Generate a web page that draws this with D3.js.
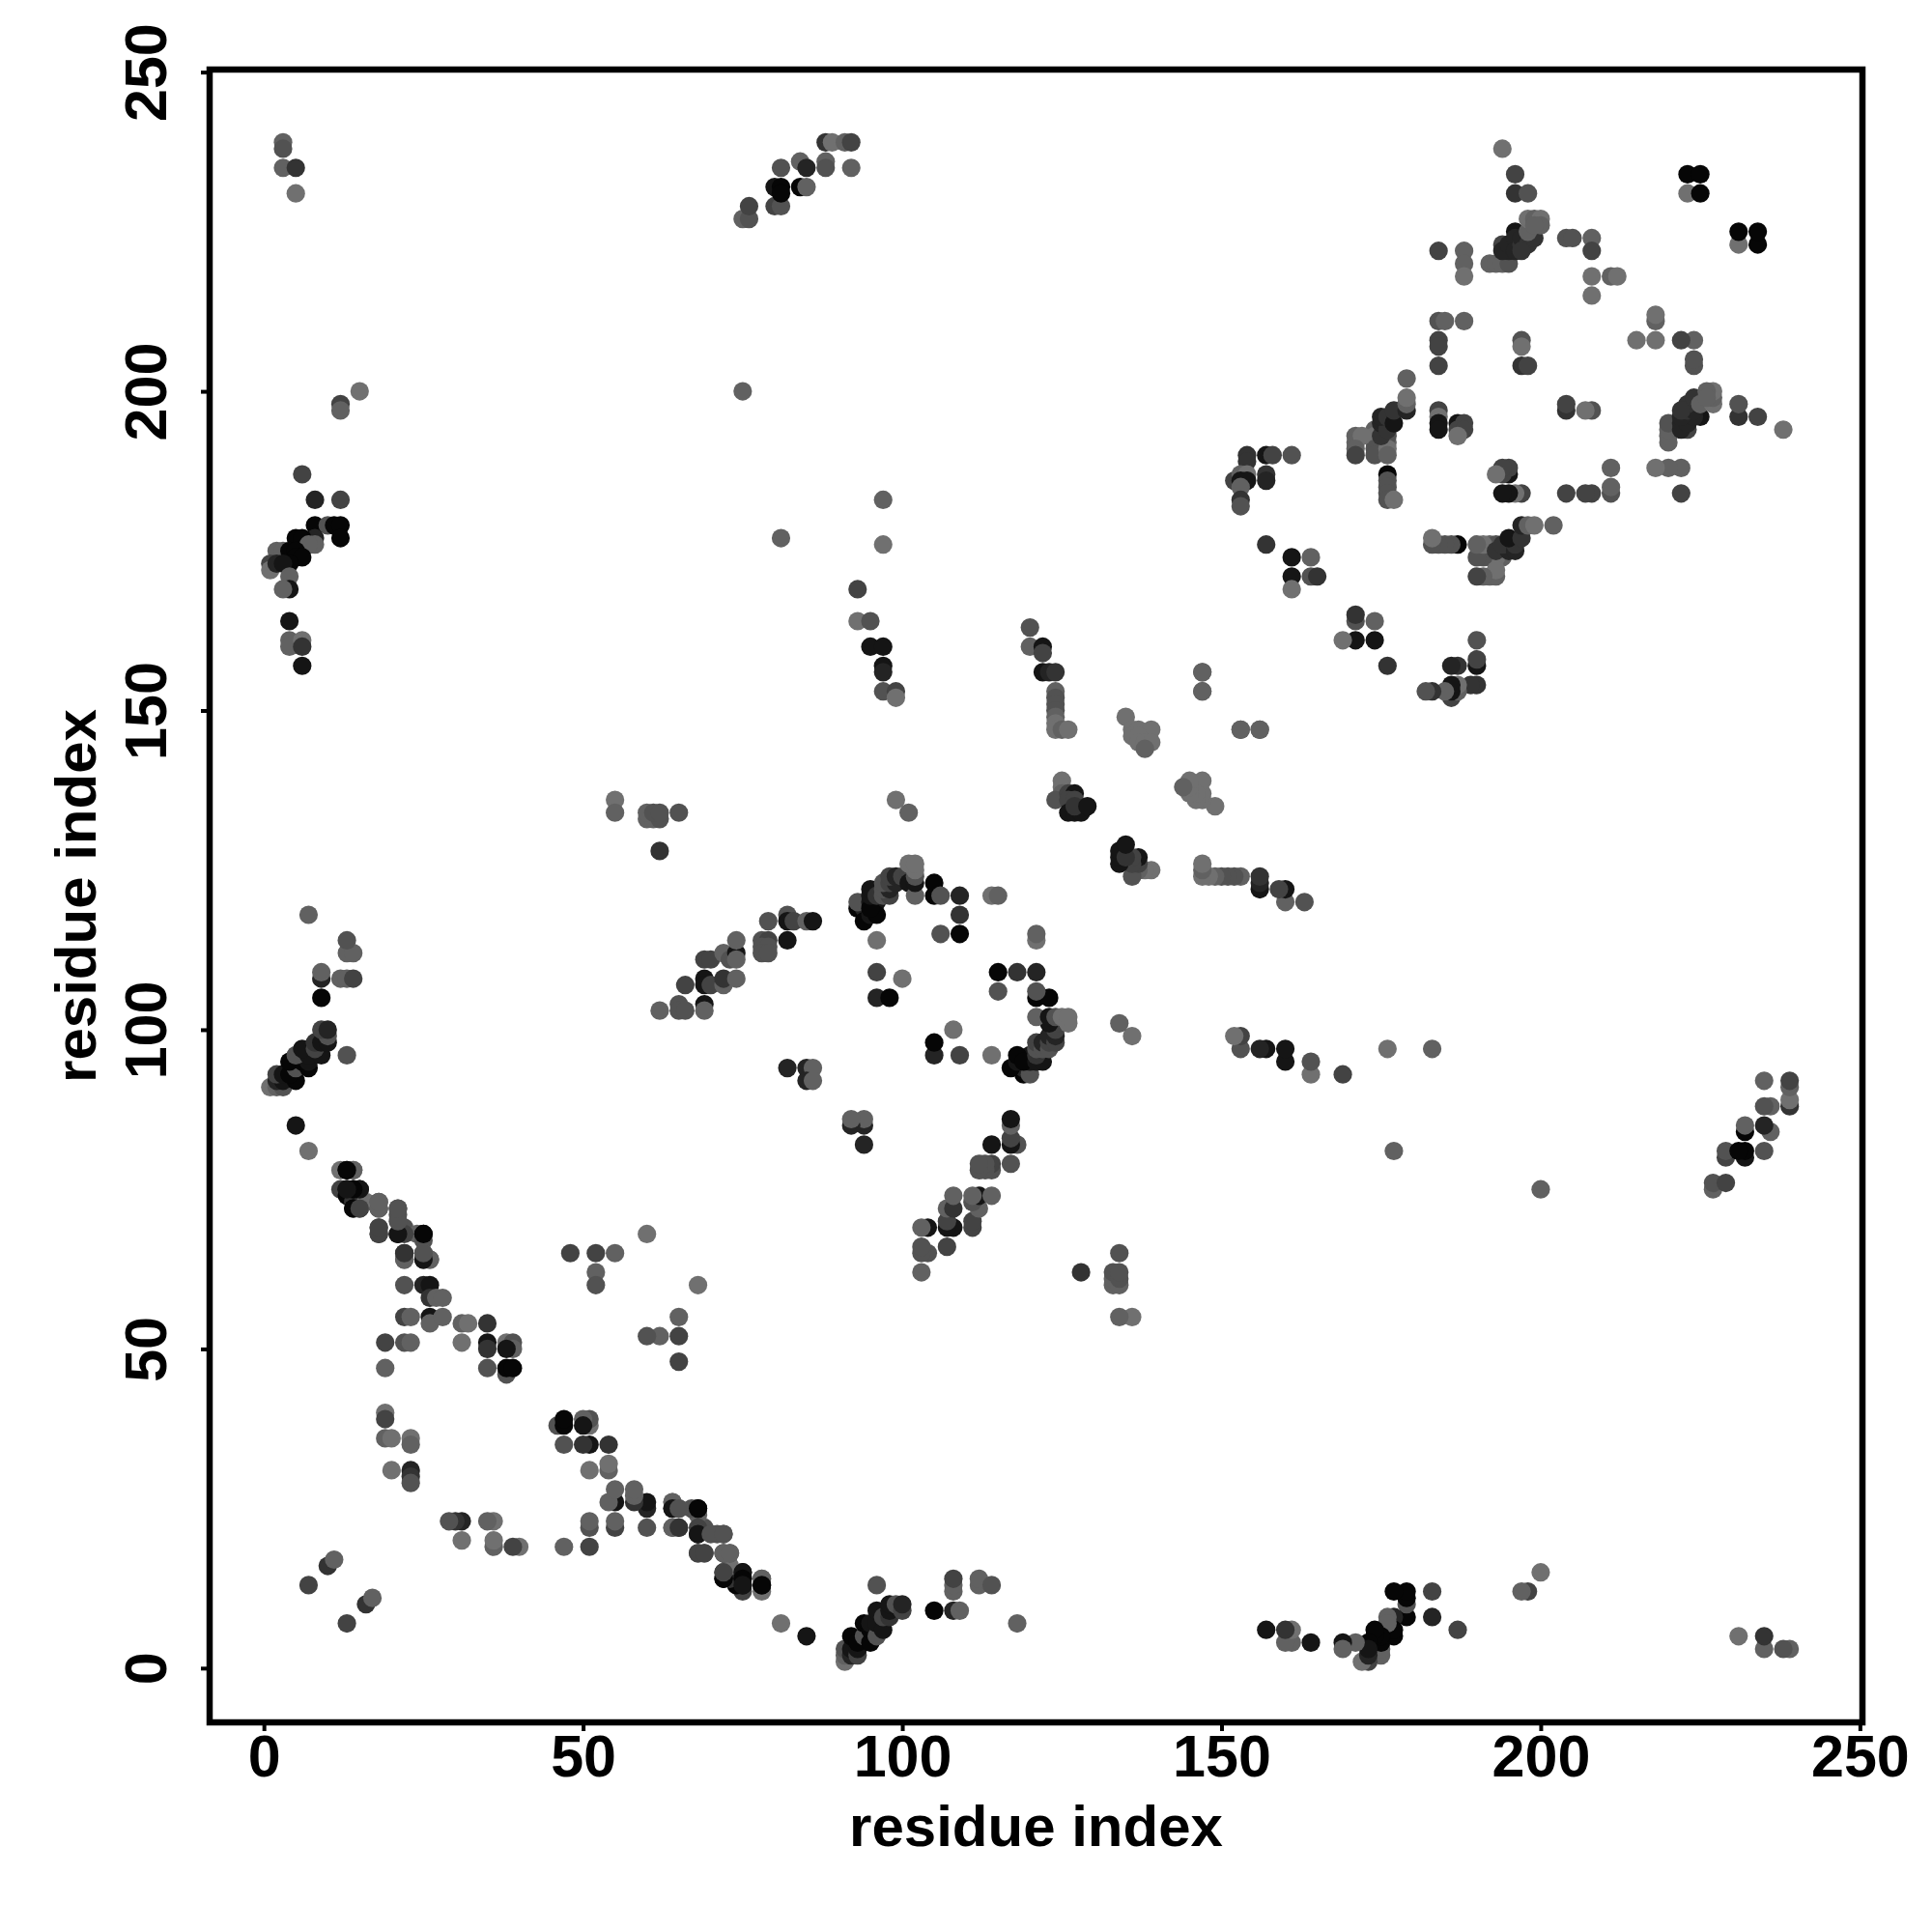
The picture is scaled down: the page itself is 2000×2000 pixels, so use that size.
<!DOCTYPE html>
<html>
<head>
<meta charset="utf-8">
<title>contact map</title>
<script src="https://cdnjs.cloudflare.com/ajax/libs/d3/7.8.5/d3.min.js"></script>
<style>
  body { margin: 0; background: #fff; }
  text { font-family: "Liberation Sans", Arial, sans-serif; font-weight: bold; fill: #000; }
</style>
</head>
<body>
<div id="chart"></div>
<script>
// contacts as [residue i, residue j, darkness level 2-9], i < j, map is symmetric
var nTermBeta = [[1,91,2],[2,91,3],[3,91,4],[2,92,7],[3,92,8],[5,92,9],[2,93,5],[3,93,8],[4,93,9],[5,94,4],[7,94,9],
  [4,95,9],[6,95,9],[7,95,8],[5,96,4],[7,96,8],[9,96,8],[6,97,8],[8,97,5],[8,98,6],[9,98,8],[10,98,8],[10,99,4],[9,100,5],[10,100,7],
  [13,96,4],[5,85,8],[7,81,2],[9,105,9],[9,108,7],[9,109,3],[12,108,3],[13,108,3],[14,108,5],[13,112,3],[14,112,3],[13,114,4],[7,118,3]];
var helixOne = [[12,78,2],[13,78,9],[14,78,2],[12,75,5],[13,75,9],[14,75,9],[15,75,9],[13,74,9],[14,73,6],[14,72,9],[15,72,8],
  [16,73,2],[18,72,6],[18,73,4],[18,69,4],[18,68,5],[21,72,4],[21,71,4],[21,68,9],[22,69,4],[24,68,3],[25,68,9],[25,67,4],
  [22,65,5],[22,64,4],[25,64,8],[25,65,3],[26,64,3],[22,60,4],[25,60,7],[26,60,8],[26,58,6],[27,58,3],[28,58,3],
  [22,55,5],[23,55,3],[26,55,8],[26,54,3],[28,55,3],[31,54,3],[32,54,2],[35,54,6],[19,51,5],[22,51,4],[23,51,3],[31,51,2],
  [35,51,8],[35,50,6],[38,51,2],[39,51,4],[39,50,3],[38,50,8],[19,47,3],[35,47,4],[38,46,4],[38,47,9],[39,47,9]];
var shortRange = [[19,40,2],[19,39,5],[19,36,3],[20,36,2],[23,36,2],[23,35,3],[20,31,2],[23,31,7],[23,30,6],[23,29,4],
  [7,13,5],[10,16,6],[11,17,3],[48,65,5],[52,65,5],[55,65,3],[60,68,2],[52,62,3],[52,60,4]];
var lateHelix = [[26,64,3],[25,64,8],[25,65,4],[25,68,9],[22,64,3],[22,65,6],[22,68,5],[21,68,8],[21,70,4],[21,72,4],
  [18,68,5],[18,69,5],[18,72,3],[18,73,3],[14,72,9],[15,72,5],[15,75,8],[14,75,9],[13,75,8],[14,78,3],[13,78,9]];
var strandTwo = [[62,103,3],[65,104,4],[65,103,4],[66,103,4],[69,104,8],[69,103,3],[66,107,5],[69,108,8],[69,107,8],[70,107,5],
  [69,111,5],[70,111,5],[72,107,3],[72,108,6],[74,108,3],[72,112,3],[73,111,4],[74,112,8],[74,111,3],[74,114,3],[78,114,4],[79,114,5],
  [78,113,4],[79,113,4],[78,112,4],[79,112,4],[82,114,8],[79,117,4],[82,118,4],[82,117,8],[83,117,5],[85,117,3],[86,117,8],
  [82,94,7],[85,94,7],[86,94,3],[85,92,7],[86,92,3]];
var loopContacts = [[93,119,9],[94,119,7],[94,117,9],[93,120,4],[95,120,8],[96,120,8],[95,118,8],[96,118,9],[95,119,9],[95,121,8],[95,122,8],
  [96,121,6],[97,121,4],[98,121,5],[97,122,4],[98,122,7],[97,123,4],[98,123,5],[99,123,7],[98,124,5],[99,124,7],[100,124,5],[101,124,5],[101,123,8],
  [102,121,3],[102,123,8],[102,124,4],[102,125,2],[101,126,2],[102,126,2],[105,121,9],[105,123,9],[106,121,4],[109,121,7],[109,118,6],[109,115,9],[106,115,4],
  [114,121,2],[115,121,3],[96,114,2],[96,109,5],[100,108,2],[96,105,7],[98,105,9]];
var longRangeA = [[3,239,3],[3,238,4],[3,235,3],[5,235,6],[5,231,2],[75,227,3],[76,227,4],[76,229,5],[80,229,5],[81,229,4],
  [80,232,8],[81,232,9],[81,231,9],[81,235,4],[84,232,9],[85,232,3],[84,236,3],[85,235,7],[88,239,6],[89,239,2],[91,239,3],[92,239,5],[88,236,3],[88,235,4],[92,235,3],
  [12,198,5],[12,197,3],[15,200,2],[75,200,3],[55,136,2],[55,134,3],[60,133,3],[61,133,3],[62,133,4],[60,134,3],[61,134,4],[62,134,4],[65,134,4],[62,128,6],[99,136,2],[101,134,3]];
var cTermClusterA = [[6,187,5],[8,183,7],[12,183,5],[8,179,9],[10,179,4],[11,179,9],[12,179,9],[12,177,9],[8,177,7],[8,176,3],[5,177,9],[6,177,9],[7,176,3],
  [2,175,3],[3,175,3],[4,175,9],[5,175,9],[5,174,9],[6,174,9],[4,173,9],[1,173,5],[1,172,2],[2,173,7],[3,173,8],[4,171,3],[4,169,8],[3,169,3],
  [4,164,8],[4,161,3],[4,160,3],[6,161,2],[6,160,6],[6,157,8],[81,177,3],[97,183,3],[97,176,2],[93,169,5],[93,164,2],[95,164,4],[95,160,8],[97,160,8],[97,157,8],[97,156,7],[97,153,4],[99,153,5],[99,152,2]];
var middleBeta = [[120,163,4],[120,160,3],[122,160,8],[122,159,5],[122,156,8],[123,156,7],[124,156,6],[124,153,3],[124,152,4],[124,151,4],[124,150,4],[124,149,3],
  [124,148,2],[124,147,2],[125,147,3],[126,147,2],[147,156,3],[147,153,3],[135,149,2],[136,147,2],[137,147,2],[139,147,2],[136,146,2],[137,146,2],[137,145,2],[138,145,2],[139,145,2],[138,144,3],
  [125,139,2],[125,138,2],[125,137,3],[124,136,4],[126,137,5],[127,137,8],[126,136,5],[127,136,5],[126,134,8],[127,134,8],[128,134,8],[127,135,6],[129,135,8]];
var cTermClusterB = [[154,190,6],[154,189,6],[157,190,8],[158,190,5],[161,190,4],[157,187,6],[157,186,7],[152,186,5],[153,187,3],[154,187,2],[153,186,8],[154,186,8],[153,185,3],[153,183,6],[153,182,4],
  [157,176,6],[161,174,8],[164,174,3],[161,171,8],[164,171,4],[165,171,6],[161,169,2],
  [174,194,3],[174,192,3],[176,192,3],[171,192,3],[174,193,2],[176,193,4],[174,191,4],[174,190,4],[176,191,2],[176,190,3],[171,193,3],[172,193,2],[171,191,3],[171,190,5],
  [175,193,6],[175,195,7],[176,194,6],[175,196,7],[176,196,6],[177,195,8],[177,197,6],[179,197,7],[179,198,3],[179,199,2],[179,202,3],
  [176,187,9],[176,186,4],[176,185,4],[176,184,4],[176,183,4],[177,183,2]];
var cTermClusterC = [[184,197,5],[184,196,2],[184,195,8],[184,194,8],[187,195,8],[188,195,5],[187,194,5],[188,194,5],[187,193,2],[184,222,5],[188,222,3],[188,220,3],[188,218,2],[184,211,4],[185,211,3],[188,211,3],[184,208,5],[184,207,5],[184,204,5],
  [194,238,2],[196,234,5],[196,231,6],[198,231,4],[223,234,9],[225,234,9],[223,231,2],[225,231,9],
  [192,220,3],[193,220,3],[194,220,3],[195,220,4],[194,223,5],[195,222,7],[194,222,7],[195,223,7],[196,225,8],[196,224,7],[196,222,7],[197,223,6],[197,224,7],[198,223,6],[197,222,6],[199,224,6],[198,225,3],[198,227,2],[199,227,3],[200,227,2],[200,226,3],[199,226,3],
  [204,224,4],[205,224,4],[208,224,3],[208,222,5],[208,218,2],[211,218,3],[212,218,2],[208,215,2],[197,208,4],[197,207,2],[197,204,6],[198,204,5]];
var strandFour = [[153,147,3],[156,147,3]];

var contacts = [].concat(nTermBeta, helixOne, shortRange, lateHelix, strandTwo, loopContacts,
  longRangeA, cTermClusterA, middleBeta, strandFour, cTermClusterB, cTermClusterC);

var tickValues = [0, 50, 100, 150, 200, 250];
var axisTitle = "residue index";

var svg = d3.select("#chart").append("svg")
  .attr("width", 2000)
  .attr("height", 2000);

var left = 217, right = 1928, top_ = 72, bottom = 1783;

var x = d3.scaleLinear().domain([-8.5, 250.4]).range([left, right]);
var y = d3.scaleLinear().domain([-8.5, 250.4]).range([bottom, top_]);
var shade = d3.scaleLinear().domain([2, 9]).range([112, 6]);

function pointColor(level) {
  var v = Math.round(shade(level));
  return d3.rgb(v, v, v);
}

// upper triangle first, then its mirror
var points = contacts.map(function(d) { return {px: d[0], py: d[1], level: d[2]}; })
  .concat(contacts.map(function(d) { return {px: d[1], py: d[0], level: d[2]}; }));

svg.append("g").selectAll("circle")
  .data(points)
  .enter().append("circle")
  .attr("cx", function(d) { return x(d.px); })
  .attr("cy", function(d) { return y(d.py); })
  .attr("r", 9.6)
  .attr("fill", function(d) { return pointColor(d.level); });

// frame
svg.append("rect")
  .attr("x", left)
  .attr("y", top_)
  .attr("width", right - left)
  .attr("height", bottom - top_)
  .attr("fill", "none")
  .attr("stroke", "#000")
  .attr("stroke-width", 6.5);

var xAxis = svg.append("g")
  .attr("transform", "translate(0," + bottom + ")")
  .call(d3.axisBottom(x).tickValues(tickValues).tickSize(9).tickSizeOuter(0));

var yAxis = svg.append("g")
  .attr("transform", "translate(" + left + ",0)")
  .call(d3.axisLeft(y).tickValues(tickValues).tickSize(9).tickSizeOuter(0));

xAxis.select(".domain").remove();
yAxis.select(".domain").remove();
svg.selectAll(".tick line").attr("stroke", "#000").attr("stroke-width", 4);

xAxis.selectAll("text")
  .attr("y", 56)
  .attr("dy", 0)
  .attr("font-size", 61)
  .attr("text-anchor", "middle");

yAxis.selectAll("text")
  .attr("x", 0)
  .attr("y", -45)
  .attr("dy", 0)
  .attr("font-size", 61)
  .attr("text-anchor", "middle")
  .attr("transform", "rotate(-90)");

svg.append("text")
  .attr("x", (left + right) / 2)
  .attr("y", 1911)
  .attr("font-size", 60)
  .attr("text-anchor", "middle")
  .text(axisTitle);

svg.append("text")
  .attr("transform", "translate(99," + (top_ + bottom) / 2 + ") rotate(-90)")
  .attr("font-size", 60)
  .attr("text-anchor", "middle")
  .text(axisTitle);
</script>
</body>
</html>
